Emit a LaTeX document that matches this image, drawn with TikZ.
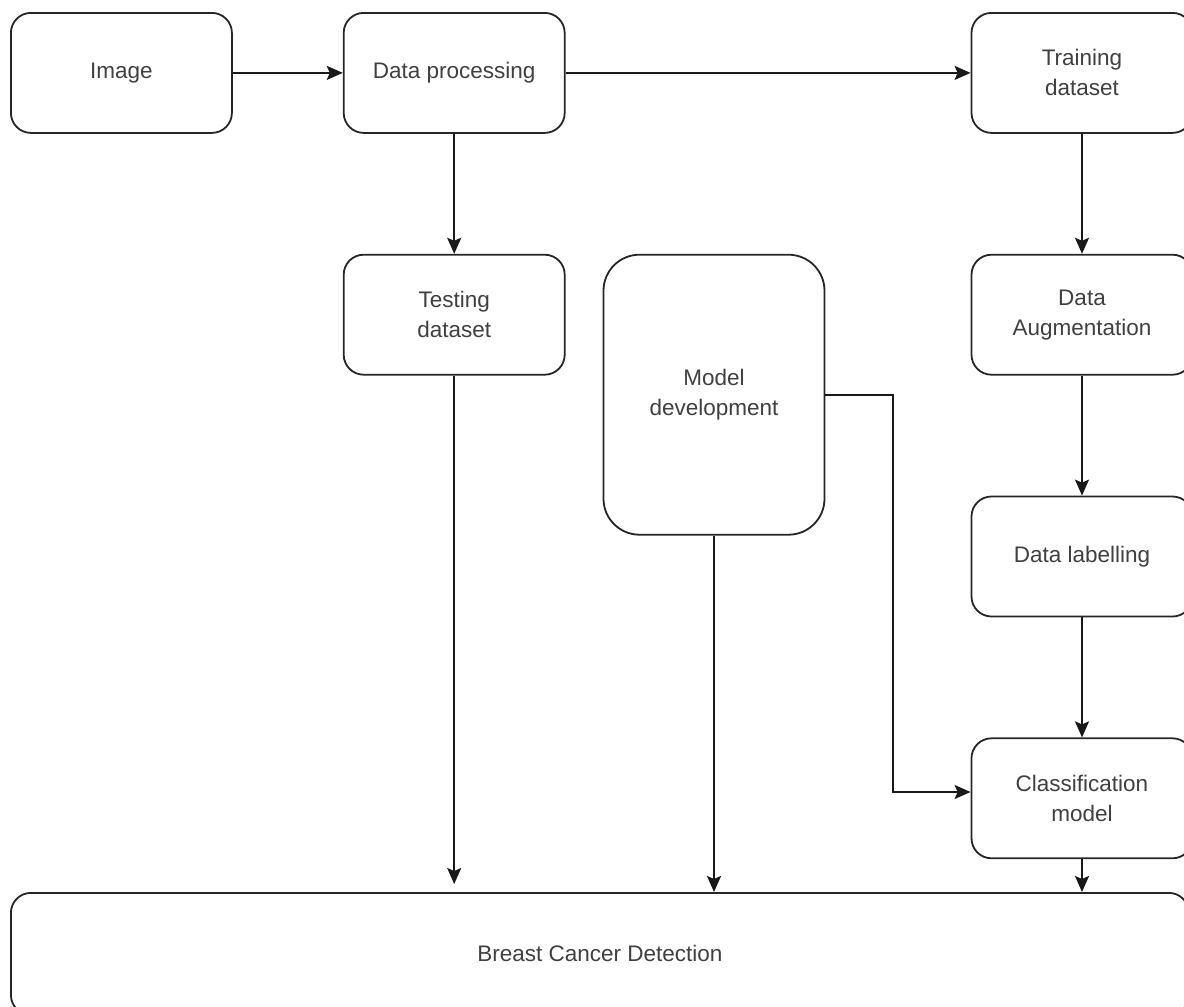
\documentclass[tikz,border=0pt]{standalone}
\usepackage{fontspec}
\setmainfont{Liberation Sans}
\usetikzlibrary{arrows.meta, positioning}

\begin{document}
\begin{tikzpicture}[
    x=1pt, y=-1pt,
    node distance=120pt,
    box/.style={rectangle, draw=black!85, line width=1.8pt, rounded corners=20pt, minimum width=221pt, minimum height=120pt, align=center, text=black!75, font=\fontsize{22.5}{30}\selectfont},
    arrow/.style={-{Stealth[length=16pt, width=14pt, inset=3pt]}, line width=1.8pt, black!90},
]
\useasboundingbox (0,0) rectangle (1184,1007);

% Top row
\node[box, anchor=north west] (image) at (10,12) {Image};
\node[box, right=110pt of image] (proc) {Data processing};
\node[box, right=405pt of proc] (train) {Training\\dataset};

% Testing branch
\node[box, below=of proc] (test) {Testing\\dataset};

% Model
\node[box, minimum height=280pt, rounded corners=36pt, right=37pt of test.north east, anchor=north west] (model) {Model\\development};

% Training branch
\node[box, below=of train] (augment) {Data\\Augmentation};
\node[box, below=of augment] (label) {Data labelling};
\node[box, below=of label] (classify) {Classification\\model};

% Result
\node[box, anchor=north west, minimum width=1178pt, minimum height=122pt] (detect) at (10,892) {Breast Cancer Detection};

% Arrows
\draw[arrow] (image) -- (proc);
\draw[arrow] (proc) -- (train);
\draw[arrow] (proc) -- (test);
\draw[arrow, shorten >=8pt] (test) -- (test |- detect.north);
\draw[arrow] (model) -- (model |- detect.north);
\draw[arrow] (model.east) -| (893,792) -- (classify.west |- 0,792);
\draw[arrow] (train) -- (augment);
\draw[arrow] (augment) -- (label);
\draw[arrow] (label) -- (classify);
\draw[arrow] (classify) -- (classify |- detect.north);

\end{tikzpicture}
\end{document}
